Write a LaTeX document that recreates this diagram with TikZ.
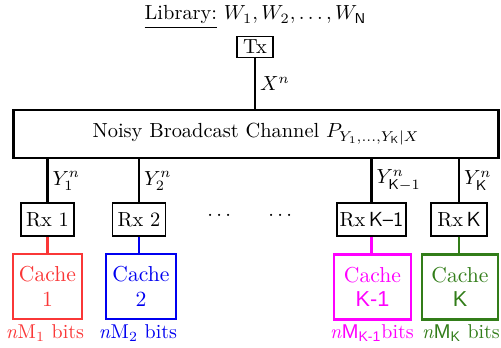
\documentclass[tikz,border=0pt]{standalone}
\usepackage{fontspec}
\usepackage{amsmath}
\usetikzlibrary{positioning}
\newfontfamily\cachesans{Liberation Sans}
\definecolor{cRed}{RGB}{250,55,55}
\definecolor{cBlue}{RGB}{0,0,240}
\definecolor{cMag}{RGB}{255,0,255}
\definecolor{cGreen}{RGB}{50,125,25}

\begin{document}
\begin{tikzpicture}[x=0.49pt, y=-0.49pt,
    box/.style={draw, line width=0.9pt, inner sep=1pt, minimum height=16.2pt},
    cache/.style={draw=#1, text=#1, line width=1.1pt, align=center,
        font=\fontsize{10.6pt}{12pt}\selectfont, minimum height=31.9pt, inner sep=1pt},
    bits/.style={text=#1, font=\fontsize{9.8pt}{12pt}\selectfont, inner sep=0pt}]
    \useasboundingbox (0,0) rectangle (501,347);

    % Transmitter and channel
    \node (lib) at (255.5,17) {\underline{Library:}\ $W_1, W_2, \ldots, W_{\mathsf{N}}$};
    \node[box, minimum width=18pt, minimum height=10.3pt, inner sep=0.5pt] (tx) at (255,47) {Tx};
    \node[draw, line width=1.2pt, minimum width=237.7pt, minimum height=23.5pt] (chan) at (256,134)
        {Noisy Broadcast Channel $P_{Y_1,\ldots,Y_{\mathsf{K}}|X}$};
    \draw[line width=1pt] (tx.south) -- node[right, inner sep=2pt] (xn) {$X^n$} (tx.south |- chan.north);

    % Receivers
    \node[box, minimum width=26pt] (rx1) at (47.5,219.5) {Rx 1};
    \node[box, minimum width=26pt] (rx2) at (139,219.5) {Rx 2};
    \node[box, minimum width=33.8pt] (rxK1) at (371.5,219.5) {Rx\,\textsf{K--1}};
    \node[box, minimum width=27.4pt] (rxK) at (459,219.5) {Rx\,\textsf{K}};
    \node (dots1) at (221,216) {$\cdots$};
    \node (dots2) at (282,216) {$\cdots$};

    % Caches
    \node[cache=cRed, minimum width=33.8pt] (cache1) at (47.5,286.5) {Cache\\1};
    \node[cache=cBlue, minimum width=34.3pt] (cache2) at (141,286.5) {Cache\\2};
    \node[cache=cMag, minimum width=37.7pt] (cacheK1) at (372.5,287) {Cache\\{\cachesans K-1}};
    \node[cache=cGreen, minimum width=37.2pt] (cacheK) at (460,287) {Cache\\{\cachesans K}};

    \node[bits=cRed] (bits1) at (45,333) {\textit{n}M\textsubscript{1} bits};
    \node[bits=cBlue] (bits2) at (138,333) {\textit{n}M\textsubscript{2} bits};
    \node[bits=cMag] (bitsK1) at (372,333) {\textit{n}{\cachesans M\textsubscript{K-1}}bits};
    \node[bits=cGreen] (bitsK) at (461,333) {\textit{n}{\cachesans M\textsubscript{K}} bits};

    % Connectors
    \foreach \k/\c/\y in {1/cRed/1, 2/cBlue/2, K1/cMag/{\mathsf{K}-1}, K/cGreen/\mathsf{K}} {
        \draw[line width=1pt] (rx\k.north) -- node[right, inner sep=2pt] (y\k) {$Y^n_{\y}$} (rx\k.north |- chan.south);
        \draw[\c, line width=1pt] (rx\k.south) -- (rx\k.south |- cache\k.north);
    }
\end{tikzpicture}
\end{document}
